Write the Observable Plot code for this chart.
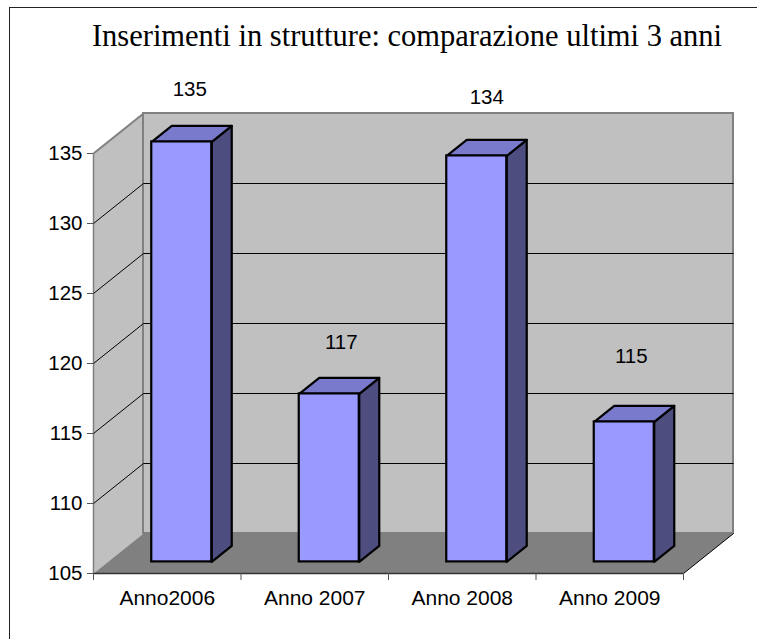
<!DOCTYPE html>
<html><head><meta charset="utf-8">
<script src="https://cdn.jsdelivr.net/npm/d3@7"></script>
<script src="https://cdn.jsdelivr.net/npm/@observablehq/plot@0.6"></script>
<style>
html,body{margin:0;padding:0;background:#fff;overflow:hidden;width:757px;height:639px}
#frame{position:absolute;left:9px;top:7px;width:800px;height:700px;border:1.5px solid #222;box-sizing:border-box}
#title{position:absolute;left:0;top:19px;width:814px;text-align:center;font:30.5px "Liberation Serif",serif;color:#000;white-space:nowrap}
#chart{position:absolute;left:0;top:0}
svg{background:transparent!important}
</style></head><body>
<div id="frame"></div>
<div id="title">Inserimenti in strutture: comparazione ultimi 3 anni</div>
<div id="chart"></div>
<script>
const categories = ["Anno2006", "Anno 2007", "Anno 2008", "Anno 2009"];
const values = [135, 117, 134, 115];
const yTicks = [105, 110, 115, 120, 125, 130, 135];

// layout constants, in scale units
const pxX = 590 / 4, pxY = 14;
const wallDx = 50 / pxX, wallDy = 40 / pxY;
const barOffX = 14.5 / pxX, barOffY = 11.6 / pxY;
const barDx = 20 / pxX, barDy = 16 / pxY;
const barW = 60 / pxX;
const labelLift = [52, 51, 58, 65];
const labelShift = [-2, 2, 0, -3];
const y0 = yTicks[0], yMax = yTicks[yTicks.length - 1], n = categories.length;

const poly = (rows, options) => Plot.line(rows.flatMap((pts, id) => pts.map(([x, y]) => ({x, y, id}))),
  {x: "x", y: "y", z: "id", curve: "linear-closed", ...options});
const seg = (x1, y1, x2, y2, options) => Plot.link([0], {x1: () => x1, y1: () => y1, x2: () => x2, y2: () => y2, ...options});

const barX = i => i + 0.5 - barW / 2 + barOffX;
const barBase = y0 + barOffY;
const barTop = (v) => v - y0 + barBase;

const chart = Plot.plot({
  width: 757, height: 639,
  marginLeft: 93, marginRight: 74, marginTop: 153, marginBottom: 66,
  x: {domain: [0, n], axis: null},
  y: {domain: [y0, yMax], axis: null},
  style: {fontFamily: "'Liberation Sans',Arial,sans-serif", fontSize: "20.5px", color: "#000"},
  marks: [
    // left wall
    poly([[[0, y0], [wallDx, y0 + wallDy], [wallDx, yMax + wallDy], [0, yMax]]], {fill: "#C0C0C0", stroke: "none"}),
    // back wall
    Plot.rect([0], {x1: () => wallDx, x2: () => n + wallDx, y1: () => y0 + wallDy, y2: () => yMax + wallDy, fill: "#C0C0C0", stroke: "#808080", strokeWidth: 2}),
    seg(0, yMax, wallDx, yMax + wallDy, {stroke: "#808080", strokeWidth: 2}),
    seg(0, y0, 0, yMax, {stroke: "#808080", strokeWidth: 1.5}),
    // floor
    poly([[[0, y0], [wallDx, y0 + wallDy], [n + wallDx, y0 + wallDy], [n, y0]]], {fill: "#808080", stroke: "none"}),
    seg(n, y0, n + wallDx, y0 + wallDy, {stroke: "#000", strokeWidth: 1}),
    // gridlines
    Plot.link(yTicks.slice(1, -1), {x1: () => wallDx, x2: () => n + wallDx, y1: d => d + wallDy, y2: d => d + wallDy, stroke: "#000", strokeWidth: 1}),
    Plot.link(yTicks.slice(1, -1), {x1: () => 0, x2: () => wallDx, y1: d => d, y2: d => d + wallDy, stroke: "#000", strokeWidth: 1}),
    seg(0, y0, n, y0, {stroke: "#333", strokeWidth: 1.5}),
    // bars: side, top, front
    poly(values.map((v, i) => [[barX(i) + barW, barBase], [barX(i) + barW + barDx, barBase + barDy], [barX(i) + barW + barDx, barTop(v) + barDy], [barX(i) + barW, barTop(v)]]),
      {fill: "#4D4D80", stroke: "#000", strokeWidth: 2.2}),
    poly(values.map((v, i) => [[barX(i), barTop(v)], [barX(i) + barDx, barTop(v) + barDy], [barX(i) + barW + barDx, barTop(v) + barDy], [barX(i) + barW, barTop(v)]]),
      {fill: "#7A7ACC", stroke: "#000", strokeWidth: 2.2}),
    Plot.rect(values, {x1: (d, i) => barX(i), x2: (d, i) => barX(i) + barW, y1: () => barBase, y2: d => barTop(d), fill: "#9999FF", stroke: "#000", strokeWidth: 2.2}),
    // data labels
    ...values.map((v, i) => Plot.text([v], {
      x: () => barX(i) + (barW + barDx) / 2, y: d => barTop(d), text: d => String(d),
      dx: labelShift[i], dy: -labelLift[i], fontSize: 20.5, fill: "#000"
    })),
    // axes
    Plot.axisY(yTicks, {tickSize: 6, tickPadding: 5, stroke: "#555", fontSize: 20.5, label: null, tickFormat: d => String(d)}),
    Plot.axisX(d3.range(n + 1), {tickSize: 7, tickFormat: () => "", stroke: "#555", label: null}),
    Plot.text(categories, {x: (d, i) => i + 0.5, y: () => y0, text: d => d, dy: 25, fontSize: 21, fill: "#000"})
  ]
});
document.getElementById("chart").append(chart);
</script>
</body></html>
